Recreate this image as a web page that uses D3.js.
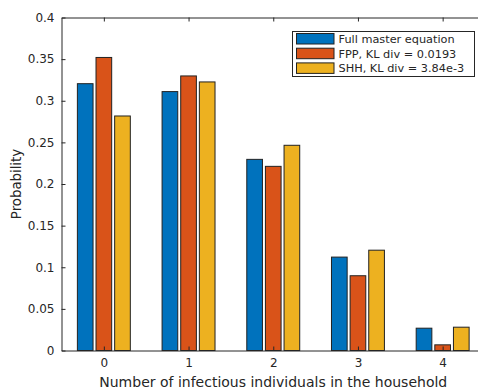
<!DOCTYPE html>
<html lang="en">
    <head>
        <meta charset="utf-8">
        <title>Household distribution</title>
        <script src="https://d3js.org/d3.v7.min.js"></script>
        <style>
            body { margin: 0; background: #fff; }
            text { font-family: "DejaVu Sans", sans-serif; fill: #262626; }
        </style>
    </head>

    <body>
        <div id="vis"></div>

        <script>

            // data
            const categories = [0, 1, 2, 3, 4];
            const seriesNames = ["Full master equation", "FPP, KL div = 0.0193", "SHH, KL div = 3.84e-3"];
            const fullME = [0.3205, 0.311, 0.2296, 0.1122, 0.0268];
            const fpp    = [0.352, 0.3298, 0.2212, 0.0898, 0.0068];
            const shh    = [0.2817, 0.3226, 0.2465, 0.1205, 0.028];
            const yTicks = [0, 0.05, 0.1, 0.15, 0.2, 0.25, 0.3, 0.35, 0.4];
            const colors = ["#0072BD", "#D95319", "#EDB120"];

            const width = 478, height = 391;
            const mLeft = 61.5, mRight = 485, mTop = 17.5, mBottom = 350.5;

            const svg = d3.select("#vis")
                    .append("svg")
                    .attr("width", width)
                    .attr("height", height);

            const xScale = d3.scaleLinear().domain([-0.5, 4.5]).range([mLeft, mRight]);
            const yScale = d3.scaleLinear().domain([0, 0.4]).range([mBottom, mTop]);

            // bars
            const allSeries = [fullME, fpp, shh];
            const offsets = [-0.22, 0, 0.22];
            const barW = 0.185;
            allSeries.forEach(function(vals, s){
                svg.append("g")
                    .selectAll("rect")
                    .data(categories)
                    .enter()
                    .append("rect")
                    .attr("x", d => xScale(d + offsets[s] - barW / 2))
                    .attr("y", (d, i) => yScale(vals[i]))
                    .attr("width", xScale(barW) - xScale(0))
                    .attr("height", (d, i) => yScale(0) - yScale(vals[i]))
                    .attr("fill", colors[s])
                    .attr("stroke", "#222")
                    .attr("stroke-width", 1);
            });

            //axes
            const fmt = d => String(+d.toFixed(2));
            svg.append("g")
                .attr("transform", `translate(${mLeft},0)`)
                .call(d3.axisLeft(yScale).tickValues(yTicks).tickFormat(fmt).tickSizeInner(-4).tickSizeOuter(0).tickPadding(7))
                .call(g => g.selectAll("text").style("font-size", "12px"));

            svg.append("g")
                .attr("transform", `translate(0,${mBottom})`)
                .call(d3.axisBottom(xScale).tickValues(categories).tickFormat(d3.format("d")).tickSizeInner(-4).tickSizeOuter(0).tickPadding(8))
                .call(g => g.selectAll("text").style("font-size", "12px"));

            svg.append("g")
                .attr("transform", `translate(0,${mTop})`)
                .call(d3.axisTop(xScale).tickValues(categories).tickFormat("").tickSizeInner(-4).tickSizeOuter(0));

            svg.selectAll(".domain, .tick line").attr("stroke", "#262626");

            // axis labels
            svg.append("text")
                .attr("x", xScale(2))
                .attr("y", 386.5)
                .attr("text-anchor", "middle")
                .style("font-size", "14px")
                .text("Number of infectious individuals in the household");

            svg.append("text")
                .attr("transform", `translate(21,${(mTop + mBottom) / 2}) rotate(-90)`)
                .attr("text-anchor", "middle")
                .style("font-size", "13.3px")
                .text("Probability");

            // legend
            const legend = svg.append("g").attr("transform", "translate(292.5,31.5)");
            legend.append("rect")
                .attr("width", 182)
                .attr("height", 45)
                .attr("fill", "#fff")
                .attr("stroke", "#262626");
            seriesNames.forEach(function(name, i){
                legend.append("rect")
                    .attr("x", 4)
                    .attr("y", 2 + i * 14.7)
                    .attr("width", 37.5)
                    .attr("height", 10.5)
                    .attr("fill", colors[i])
                    .attr("stroke", "#222");
                legend.append("text")
                    .attr("x", 46)
                    .attr("y", 11.5 + i * 14.7)
                    .style("font-size", "11.3px")
                    .text(name);
            });
        </script>
    </body>
</html>
